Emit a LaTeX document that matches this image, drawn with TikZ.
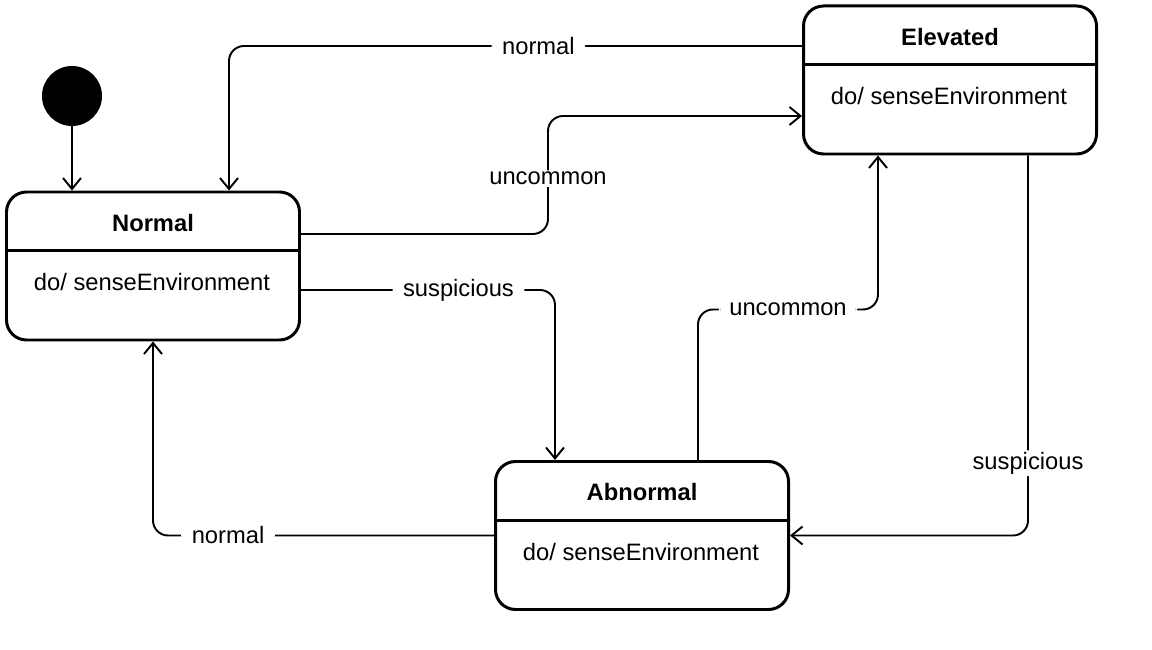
\documentclass[tikz,border=0pt]{standalone}
\usepackage{fontspec}
\setmainfont{Liberation Sans}
\usepackage{tikz}
\usetikzlibrary{arrows.meta, positioning, calc}

\begin{document}
\begin{tikzpicture}[>={Straight Barb[length=2.2mm, width=3.6mm]},
      st/.style={rectangle, draw, line width=1.7pt, rounded corners=0.4cm,
                 minimum width=5.86cm, minimum height=2.96cm},
      ttl/.style={font=\fontsize{13.5}{16}\selectfont\bfseries},
      bdy/.style={font=\fontsize{13.5}{16}\selectfont},
      lbl/.style={fill=white, inner xsep=6pt, inner ysep=1pt,
                  font=\fontsize{13.5}{16}\selectfont},
      tr/.style={->, line width=1.1pt, rounded corners=0.3cm}]
    \useasboundingbox (0,0) rectangle (23.04,-13);
    % initial state
    \node[circle, fill, minimum size=1.2cm, inner sep=0pt] (init) at (1.44,-1.92) {};
    % states
    \node[st] (normal)   at (3.06,-5.32)  {};
    \node[st] (elevated) at (19.0,-1.6)   {};
    \node[st] (abnormal) at (12.84,-10.71) {};
    \foreach \s/\t in {normal/Normal, elevated/Elevated, abnormal/Abnormal} {
      \node[ttl] at ($(\s.north)+(0,-0.65)$) {\t};
      \draw[line width=1.7pt] ($(\s.north west)+(0,-1.2)$) -- ($(\s.north east)+(0,-1.2)$);
      \node[bdy] at ($(\s.north)+(-0.02,-1.84)$) {do/ senseEnvironment};
    }
    % transitions
    \draw[tr] (init) -- (init |- normal.north);
    \draw[tr] ($(elevated.west)+(0,0.68)$) -| node[lbl, pos=0.23] {normal} ($(normal.north)+(1.52,0)$);
    \draw[tr] ($(normal.east)+(0,0.64)$) -| node[lbl, pos=0.735] {uncommon}
          ($(elevated.west)+(-5.08,-0.72)$) -- ($(elevated.west)+(0,-0.72)$);
    \draw[tr] ($(normal.east)+(0,-0.48)$) -| node[lbl, pos=0.31] {suspicious} ($(abnormal.north)+(-1.74,0)$);
    \draw[tr] ($(abnormal.north)+(1.12,0)$) |- node[lbl, pos=0.75] {uncommon}
          ($(elevated.south)+(-1.44,-3.08)$) -- ($(elevated.south)+(-1.44,0)$);
    \draw[tr] ($(elevated.south)+(1.56,0)$) |- node[lbl, pos=0.405] {suspicious} (abnormal.east);
    \draw[tr] (abnormal.west) -| node[lbl, pos=0.39] {normal} (normal.south);
\end{tikzpicture}
\end{document}
